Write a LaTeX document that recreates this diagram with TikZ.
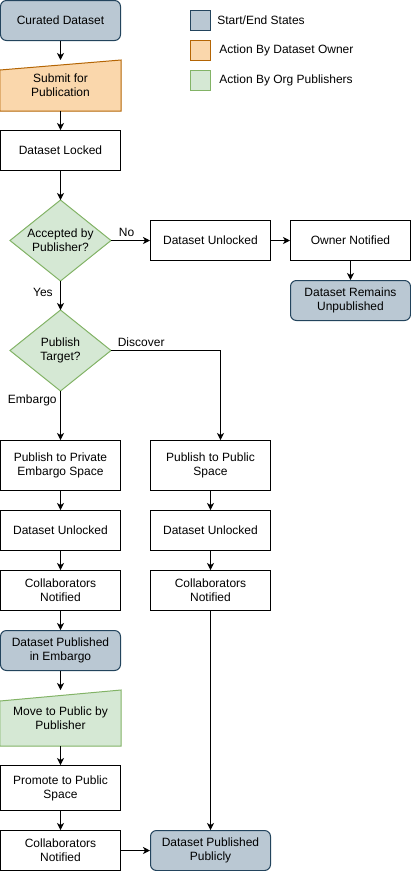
\documentclass[tikz,border=0pt]{standalone}
\usepackage{fontspec}
\setmainfont{Liberation Sans}
\usetikzlibrary{arrows.meta,backgrounds}

\definecolor{stateFill}{HTML}{BAC8D3}
\definecolor{stateLine}{HTML}{23445D}
\definecolor{ownerFill}{HTML}{FAD7AC}
\definecolor{ownerLine}{HTML}{B46504}
\definecolor{pubFill}{HTML}{D5E8D4}
\definecolor{pubLine}{HTML}{82B366}

\begin{document}
\begin{tikzpicture}[x=1pt,y=-1pt,line width=1pt,
  every node/.style={font=\fontsize{12}{14}\selectfont},
  box/.style={draw,minimum width=120pt,minimum height=40pt,align=center,inner sep=2pt},
  state/.style={box,rounded corners=6pt,fill=stateFill,draw=stateLine},
  plain/.style={minimum width=120pt,align=center,inner sep=2pt},
  owner/.style={fill=ownerFill,draw=ownerLine,line width=1pt},
  pub/.style={fill=pubFill,draw=pubLine,line width=1pt},
  arr/.style={-{Stealth[length=7pt,width=7pt,inset=2pt]}},
  lbl/.style={font=\fontsize{12}{14}\selectfont}]

\useasboundingbox (-0.5,-0.5) rectangle (410.5,870.5);

% Legend
\node[state,minimum width=20pt,minimum height=20pt,rounded corners=0pt] (legstate) at (200,20) {};
\node[box,owner,minimum width=20pt,minimum height=20pt] (legowner) at (200,50) {};
\node[box,pub,minimum width=20pt,minimum height=20pt] (legpub) at (200,80) {};
\node[anchor=west] (legstatetxt) at (213,20) {Start/End States};
\node[anchor=west] (legownertxt) at (215,50) {Action By Dataset Owner};
\node[anchor=west] (legpubtxt) at (215,80) {Action By Org Publishers};

% Submission
\node[state] (curated) at (60,20) {Curated Dataset};
\node[plain,minimum height=50pt] (submit) at (60,85) {Submit for\\Publication};
\node[box] (locked) at (60,150) {Dataset Locked};

% Decisions
\node[plain,minimum width=100pt,minimum height=80pt] (accept) at (60,240) {Accepted by\\Publisher?};
\node[plain,minimum width=100pt,minimum height=80pt] (target) at (60,350) {Publish\\Target?};

% Rejected branch
\node[box] (unlockno) at (210,240) {Dataset Unlocked};
\node[box] (owner) at (350,240) {Owner Notified};
\node[state] (remains) at (350,300) {Dataset Remains\\Unpublished};

% Embargo branch
\node[box,minimum height=50pt] (pubembargo) at (60,465) {Publish to Private\\Embargo Space};
\node[box] (unlockemb) at (60,530) {Dataset Unlocked};
\node[box] (collabemb) at (60,590) {Collaborators\\Notified};
\node[state] (inembargo) at (60,650) {Dataset Published\\in Embargo};
\node[plain,minimum height=55pt] (movepub) at (60,717.5) {Move to Public by\\Publisher};
\node[box,minimum height=45pt] (promote) at (60,787.5) {Promote to Public\\Space};
\node[box] (collabfin) at (60,850) {Collaborators\\Notified};

% Discover branch
\node[box,minimum height=50pt] (pubpublic) at (210,465) {Publish to Public\\Space};
\node[box] (unlockpub) at (210,530) {Dataset Unlocked};
\node[box] (collabpub) at (210,590) {Collaborators\\Notified};
\node[state] (publicly) at (210,850) {Dataset Published\\Publicly};

% Odd shapes behind the text
\begin{scope}[on background layer]
\filldraw[owner] (submit.south west) -- (submit.south east) -- (submit.north east)
  -- ([yshift=-10pt]submit.north west) -- cycle;
\filldraw[pub] (movepub.south west) -- (movepub.south east) -- (movepub.north east)
  -- ([yshift=-11pt]movepub.north west) -- cycle;
\filldraw[pub] (accept.north) -- (accept.east) -- (accept.south) -- (accept.west) -- cycle;
\filldraw[pub] (target.north) -- (target.east) -- (target.south) -- (target.west) -- cycle;
\end{scope}

% Connectors
\draw[arr] (curated) -- (submit);
\draw[arr] (submit) -- (locked);
\draw[arr] (locked) -- (accept);
\draw[arr] (accept) -- node[lbl,above,pos=0.4] {No} (unlockno);
\draw[arr] (unlockno) -- (owner);
\draw[arr] (owner) -- (remains);
\draw[arr] (accept) -- node[lbl,left,pos=0.4,xshift=-4pt] {Yes} (target);
\draw[arr] (target.east) -| node[lbl,above right,pos=0,xshift=3pt] {Discover} ([xshift=10pt]pubpublic.north);
\draw[arr] (target) -- node[lbl,left,pos=0.2] {Embargo} (pubembargo);
\draw[arr] (pubembargo) -- (unlockemb);
\draw[arr] (unlockemb) -- (collabemb);
\draw[arr] (collabemb) -- (inembargo);
\draw[arr] (inembargo) -- (movepub);
\draw[arr] (movepub) -- (promote);
\draw[arr] (promote) -- (collabfin);
\draw[arr] (collabfin) -- (publicly);
\draw[arr] (pubpublic) -- (unlockpub);
\draw[arr] (unlockpub) -- (collabpub);
\draw[arr] (collabpub) -- (publicly);

\end{tikzpicture}
\end{document}
